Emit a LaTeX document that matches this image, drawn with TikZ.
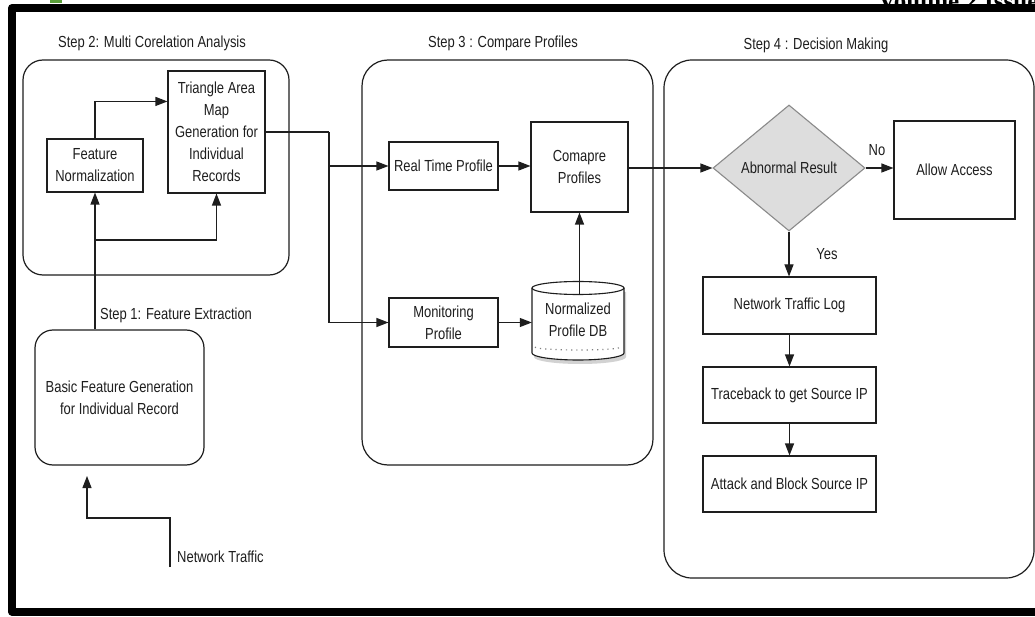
\documentclass[tikz,border=0pt]{standalone}
\usepackage{fontspec}
\setmainfont{Liberation Sans}[FakeStretch=0.81]
\newfontfamily\volfont{Liberation Serif}
\usetikzlibrary{arrows.meta,shapes.geometric,calc}
\definecolor{ink}{HTML}{1E1E1E}
\definecolor{dfill}{HTML}{DDDDDD}
\definecolor{dborder}{HTML}{8A8A8A}
\definecolor{logogreen}{HTML}{5A9E3A}
\begin{document}
\begin{tikzpicture}[x=1pt,y=-1pt,
  txt/.style={font=\fontsize{16}{22}\selectfont, text=ink, align=center},
  box/.style={txt, draw=ink, line width=1.1pt, inner sep=0pt},
  group/.style={draw=ink, line width=1.2pt, inner sep=0pt, rounded corners=#1},
  arr/.style={draw=ink, line width=1.1pt, -{Triangle[length=12pt,width=9pt]}},
  plain/.style={draw=ink, line width=1.1pt},
  steptitle/.style={font=\fontsize{16}{20}\selectfont, text=ink, inner sep=0pt}]

\useasboundingbox (0,0) rectangle (1035,617);
\fill[white] (0,0) rectangle (1035,617);

% page remnants
\fill[logogreen] (50,0) rectangle (62,3);
\node[anchor=base west, inner sep=0pt, font=\volfont\bfseries\fontsize{25}{25}\selectfont] (vol) at (878,10) {Volume 2 Issue};

% outer frame
\draw[line width=8pt, line join=round] (1045,8) -- (12,8) -- (12,611.5) -- (1045,611.5);

% containers
\node[group=20pt, minimum width=266pt, minimum height=215pt] (s2) at (156,167.5) {};
\node[group=26pt, minimum width=291pt, minimum height=405pt] (s3) at (507.5,262.5) {};
\node[group=28pt, minimum width=370pt, minimum height=518pt] (s4) at (849,319) {};
\node[group=18pt, txt, minimum width=169pt, minimum height=135pt] (bfg) at (119.5,397.5) {Basic Feature Generation\\for Individual Record};

% titles
\node[steptitle] (t2) at (152,43) {Step 2: Multi Corelation Analysis};
\node[steptitle] (t3) at (503,43) {Step 3 : Compare Profiles};
\node[steptitle] (t4) at (816,45) {Step 4 : Decision Making};
\node[steptitle, anchor=west] (t1) at (100,315) {Step 1: Feature Extraction};

% step 2 boxes
\node[box, minimum width=96pt, minimum height=53pt] (fn) at (95,165.5) {Feature\\Normalization};
\node[box, minimum width=97pt, minimum height=122pt] (ta) at (216.5,132) {Triangle Area\\Map\\Generation for\\Individual\\Records};

% step 3 boxes
\node[box, minimum width=109pt, minimum height=48pt] (rtp) at (443.5,166) {Real Time Profile};
\node[box, minimum width=97pt, minimum height=90pt] (cp) at (579.5,167) {Comapre\\Profiles};
\node[box, minimum width=109pt, minimum height=49pt] (mp) at (443.5,322.5) {Monitoring\\Profile};

% database cylinder
\fill[gray!35] (534,292) -- (534,357) arc[start angle=180, end angle=360, x radius=46pt, y radius=7pt] -- (626,292) -- cycle;
\draw[plain, fill=white] (532,288) -- (532,353) arc[start angle=180, end angle=360, x radius=46pt, y radius=7pt] -- (624,288);
\draw[plain, fill=white] (578,288) ellipse[x radius=46pt, y radius=6.5pt];
\draw[gray, line width=1.2pt, dash pattern=on 1.2pt off 4pt] (535,347) arc[start angle=180, end angle=360, x radius=43pt, y radius=3pt];
\node[txt, minimum width=92pt, minimum height=78pt, inner sep=0pt] (db) at (578,320) {Normalized\\Profile DB};
\coordinate (dbtop) at (579.5,294.5);

% step 4 nodes
\node[diamond, draw=dborder, fill=dfill, line width=1.1pt, inner sep=0pt, minimum width=152pt, minimum height=126pt, txt] (dia) at (789,168) {Abnormal Result};
\node[box, minimum width=121pt, minimum height=98pt] (aa) at (954.5,170) {Allow Access};
\node[box, minimum width=173pt, minimum height=57pt] (ntl) at (789.5,305.5) {Network Traffic Log};
\node[box, minimum width=173pt, minimum height=56pt] (tb) at (789.5,395) {Traceback to get Source IP};
\node[box, minimum width=173pt, minimum height=56pt] (ab) at (789.5,484) {Attack and Block Source IP};

% network traffic input
\coordinate (ntin) at (170,567);
\coordinate (ntbend) at (170,518);
\coordinate (ntend) at (87,476);
\node[steptitle, anchor=west] (ntlabel) at (177,557) {Network Traffic};
\draw[arr] (ntin) -- (ntbend) -| (ntend);

% step 1 -> step 2
\coordinate (split) at (95,240);
\draw[arr] (fn.south |- bfg.north) -- (fn.south);
\draw[arr] (split) -| (ta.south);
\draw[arr] (fn.north) |- ([yshift=-31pt]ta.north west);

% step 2 -> step 3
\coordinate (bus) at (329,132);
\draw[plain] (ta.east |- bus) -- (bus);
\draw[arr] (bus) |- (mp.west);
\draw[arr] (bus |- rtp.west) -- (rtp.west);

% step 3 internals
\draw[arr] (rtp.east) -- (rtp.east -| cp.west);
\draw[arr] (mp.east) -- (mp.east -| db.west);
\draw[arr] (dbtop) -- (dbtop |- cp.south);

% step 3 -> step 4
\draw[arr] (cp.east |- dia.west) -- (dia.west);
\draw[arr] (dia.east) -- (dia.east -| aa.west);
\node[steptitle] (nolabel) at (877,150) {No};
\draw[arr] (dia.south) -- (dia.south |- ntl.north);
\node[steptitle] (yeslabel) at (827,254) {Yes};
\draw[arr] (ntl.south) -- (tb.north);
\draw[arr] (tb.south) -- (ab.north);
\end{tikzpicture}
\end{document}
